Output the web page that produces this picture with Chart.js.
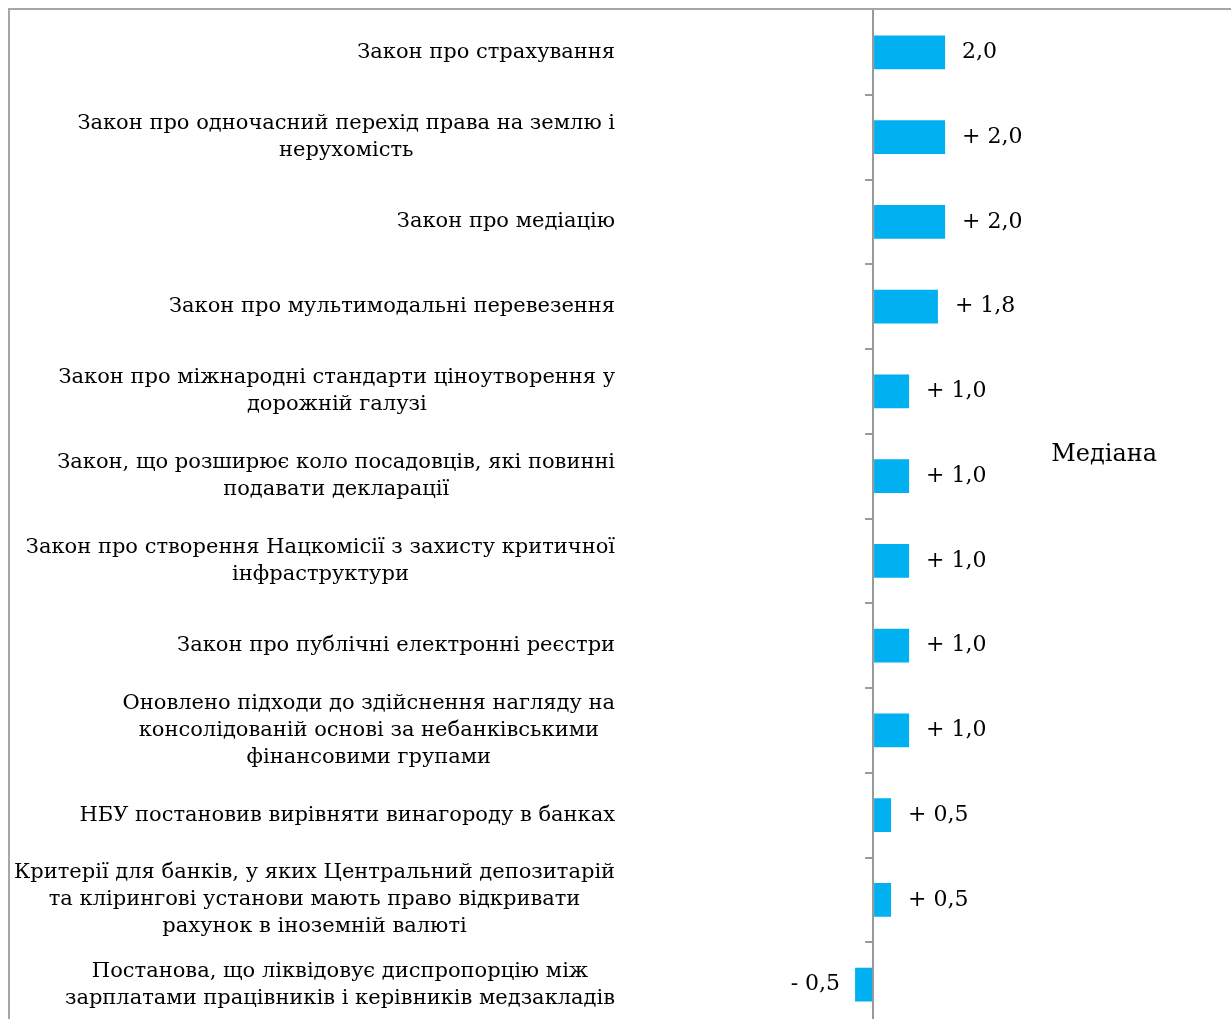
<!DOCTYPE html>
<html>
<head>
<meta charset="utf-8">
<script src="https://cdn.jsdelivr.net/npm/chart.js@4.4.0/dist/chart.umd.min.js"></script>
<style>
  html, body { margin: 0; padding: 0; overflow: hidden; background: #fff; }
  #frame { position: absolute; left: 8px; top: 8px; border: 2px solid #a6a6a6; width: 1300px; height: 1100px; }
  #wrap { position: relative; width: 1300px; height: 1030px; }
</style>
</head>
<body>
<div id="frame"><div id="wrap"><canvas id="medianChart"></canvas></div></div>
<script>
// Назви законів / постанов (рядки вже розбиті як на картинці)
var categories = [
  ['Закон про страхування'],
  ['Закон про одночасний перехід права на землю і', 'нерухомість'],
  ['Закон про медіацію'],
  ['Закон про мультимодальні перевезення'],
  ['Закон про міжнародні стандарти ціноутворення у', 'дорожній галузі'],
  ['Закон, що розширює коло посадовців, які повинні', 'подавати декларації'],
  ['Закон про створення Нацкомісії з захисту критичної', 'інфраструктури'],
  ['Закон про публічні електронні реєстри'],
  ['Оновлено підходи до здійснення нагляду на', 'консолідованій основі за небанківськими', 'фінансовими групами'],
  ['НБУ постановив вирівняти винагороду в банках'],
  ['Критерії для банків, у яких Центральний депозитарій', 'та клірингові установи мають право відкривати', 'рахунок в іноземній валюті'],
  ['Постанова, що ліквідовує диспропорцію між', 'зарплатами працівників і керівників медзакладів']
];

var medianValues = [2.0, 2.0, 2.0, 1.8, 1.0, 1.0, 1.0, 1.0, 1.0, 0.5, 0.5, -0.5];

// підписи значень так, як вони стоять на графіку
var valueText = ['2,0', '+ 2,0', '+ 2,0', '+ 1,8', '+ 1,0', '+ 1,0', '+ 1,0', '+ 1,0', '+ 1,0', '+ 0,5', '+ 0,5', '- 0,5'];

var seriesName = 'Медіана';

var serif = '"DejaVu Serif", "Liberation Serif", serif';

// підписи категорій: блок вирівняний праворуч, рядки всередині по центру
var categoryLabels = {
  id: 'categoryLabels',
  afterDraw: function(chart) {
    var ctx = chart.ctx;
    var y = chart.scales.y;
    var zeroX = chart.scales.x.getPixelForValue(0);
    var right = zeroX - 258;
    ctx.save();
    ctx.font = '21px ' + serif;
    ctx.fillStyle = '#000';
    ctx.textBaseline = 'middle';
    ctx.textAlign = 'center';
    categories.forEach(function(lines, i) {
      var cy = y.getPixelForValue(i);
      var widest = 0;
      lines.forEach(function(l) { widest = Math.max(widest, ctx.measureText(l).width); });
      var cx = right - widest / 2;
      lines.forEach(function(l, j) {
        ctx.fillText(l, cx, cy + (j - (lines.length - 1) / 2) * 27);
      });
    });
    // маленькі риски на осі між категоріями
    ctx.strokeStyle = '#9a9a9a';
    ctx.lineWidth = 2;
    for (var i = 0; i < categories.length - 1; i++) {
      var by = Math.round((y.getPixelForValue(i) + y.getPixelForValue(i + 1)) / 2);
      ctx.beginPath();
      ctx.moveTo(zeroX - 8, by);
      ctx.lineTo(zeroX, by);
      ctx.stroke();
    }
    ctx.restore();
  }
};

// підписи значень біля стовпчиків
var valueLabels = {
  id: 'valueLabels',
  afterDatasetsDraw: function(chart) {
    var ctx = chart.ctx;
    var meta = chart.getDatasetMeta(0);
    ctx.save();
    ctx.font = '22px ' + serif;
    ctx.fillStyle = '#000';
    ctx.textBaseline = 'middle';
    meta.data.forEach(function(bar, i) {
      if (medianValues[i] >= 0) {
        ctx.textAlign = 'left';
        ctx.fillText(valueText[i], bar.x + 17, bar.y);
      } else {
        ctx.textAlign = 'right';
        ctx.fillText(valueText[i], bar.x - 15, bar.y);
      }
    });
    ctx.restore();
  }
};

var ctx = document.getElementById('medianChart').getContext('2d');
var chart = new Chart(ctx, {
  type: 'bar',
  data: {
    labels: categories,
    datasets: [{
      label: seriesName,
      data: medianValues,
      backgroundColor: '#00b0f0',
      borderWidth: 0,
      barPercentage: 0.4,
      categoryPercentage: 1.0
    }]
  },
  options: {
    indexAxis: 'y',
    responsive: true,
    maintainAspectRatio: false,
    animation: false,
    layout: { padding: { left: 647, right: 143, top: 0, bottom: 13 } },
    scales: {
      x: {
        min: -6,
        max: 4.5,
        ticks: { display: false, stepSize: 1 },
        border: { display: false },
        grid: {
          drawTicks: false,
          lineWidth: 2,
          color: function(c) { return c.tick && c.tick.value === 0 ? '#9a9a9a' : 'rgba(0,0,0,0)'; }
        }
      },
      y: {
        display: false
      }
    },
    plugins: {
      legend: {
        position: 'right',
        align: 'start',
        title: { display: true, text: ' ', padding: { top: 0, bottom: 419 }, font: { size: 10, lineHeight: 1 } },
        labels: {
          boxWidth: 0,
          padding: 4,
          color: '#000',
          font: { family: serif, size: 24 }
        }
      },
      tooltip: { enabled: false }
    }
  },
  plugins: [categoryLabels, valueLabels]
});
</script>
</body>
</html>
